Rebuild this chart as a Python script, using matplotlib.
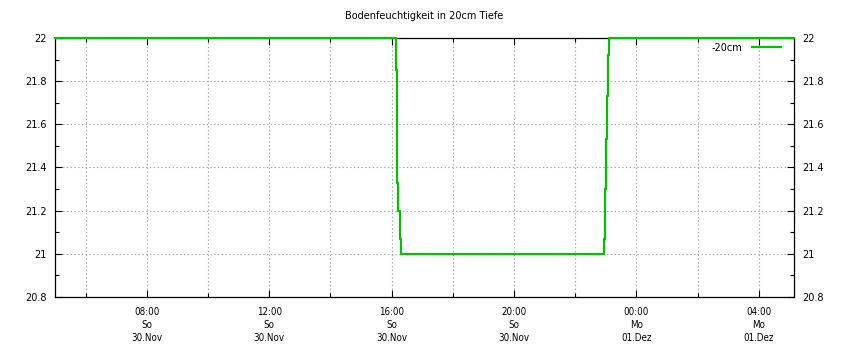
import datetime as dt
import matplotlib
matplotlib.use("Agg")
import matplotlib.pyplot as plt
import matplotlib.dates as mdates
from matplotlib.ticker import MultipleLocator, FuncFormatter

zeiten = ["2025-11-30 05:00", "2025-11-30 16:08", "2025-11-30 16:10",
          "2025-11-30 16:11", "2025-11-30 16:13", "2025-11-30 16:16",
          "2025-11-30 16:18", "2025-11-30 22:57", "2025-11-30 22:59",
          "2025-11-30 23:00", "2025-11-30 23:02", "2025-11-30 23:04",
          "2025-11-30 23:07", "2025-12-01 05:09"]
werte = [22.0, 21.85, 21.55, 21.33, 21.2, 21.07, 21.0,
         21.07, 21.3, 21.53, 21.73, 21.92, 22.0, 22.0]
titel = "Bodenfeuchtigkeit in 20cm Tiefe"
serie = "-20cm"

tage = ["Mo", "Di", "Mi", "Do", "Fr", "Sa", "So"]
monate = ["Jan", "Feb", "Mär", "Apr", "Mai", "Jun", "Jul", "Aug", "Sep",
          "Okt", "Nov", "Dez"]

t = [dt.datetime.strptime(z, "%Y-%m-%d %H:%M") for z in zeiten]

fig = plt.figure(figsize=(8.5, 3.5), dpi=100)
ax = fig.add_axes([55 / 850, 53 / 350, 739 / 850, 259 / 350])

ax.plot(t, werte, color="#00c000", lw=1.6, drawstyle="steps-post",
        label=serie, clip_on=False, zorder=5)

ax.set_xlim(t[0], t[-1])
ax.set_ylim(20.8, 22)

ax.xaxis.set_major_locator(mdates.HourLocator(byhour=[0, 4, 8, 12, 16, 20]))
ax.xaxis.set_minor_locator(mdates.HourLocator(byhour=[2, 6, 10, 14, 18, 22]))


def xfmt(x, pos):
    d = mdates.num2date(x)
    return "%s\n%s\n%02d.%s" % (d.strftime("%H:%M"), tage[d.weekday()],
                                d.day, monate[d.month - 1])


ax.xaxis.set_major_formatter(FuncFormatter(xfmt))
ax.yaxis.set_major_locator(MultipleLocator(0.2))
ax.yaxis.set_minor_locator(MultipleLocator(0.1))
ax.yaxis.set_major_formatter(FuncFormatter(lambda v, p: "%g" % round(v, 1)))

ax.tick_params(axis="both", which="both", direction="in", top=True,
               right=True, labelright=True, width=0.8)
ax.tick_params(which="major", length=5)
ax.tick_params(which="minor", length=3)
ax.tick_params(axis="y", labelsize=7, pad=6)
ax.tick_params(axis="x", labelsize=7, pad=7)
for lab in ax.get_xticklabels():
    lab.set_fontstretch("condensed")
    lab.set_linespacing(1.4)

ax.grid(True, which="both", axis="x", color="#a0a0a0", lw=0.8,
        linestyle=(0, (1.2, 2.2)))
ax.grid(True, which="major", axis="y", color="#a0a0a0", lw=0.8,
        linestyle=(0, (1.2, 2.2)))

for s in ax.spines.values():
    s.set_linewidth(0.9)

ax.set_title(titel, fontsize=7, pad=14)
ax.legend(loc="upper right", frameon=False, fontsize=7, markerfirst=False,
          handlelength=3.0, borderaxespad=0.0, handletextpad=1.0,
          bbox_to_anchor=(1 - 9 / 739, 1 - 1 / 259))

fig.savefig("out.png", dpi=100)
